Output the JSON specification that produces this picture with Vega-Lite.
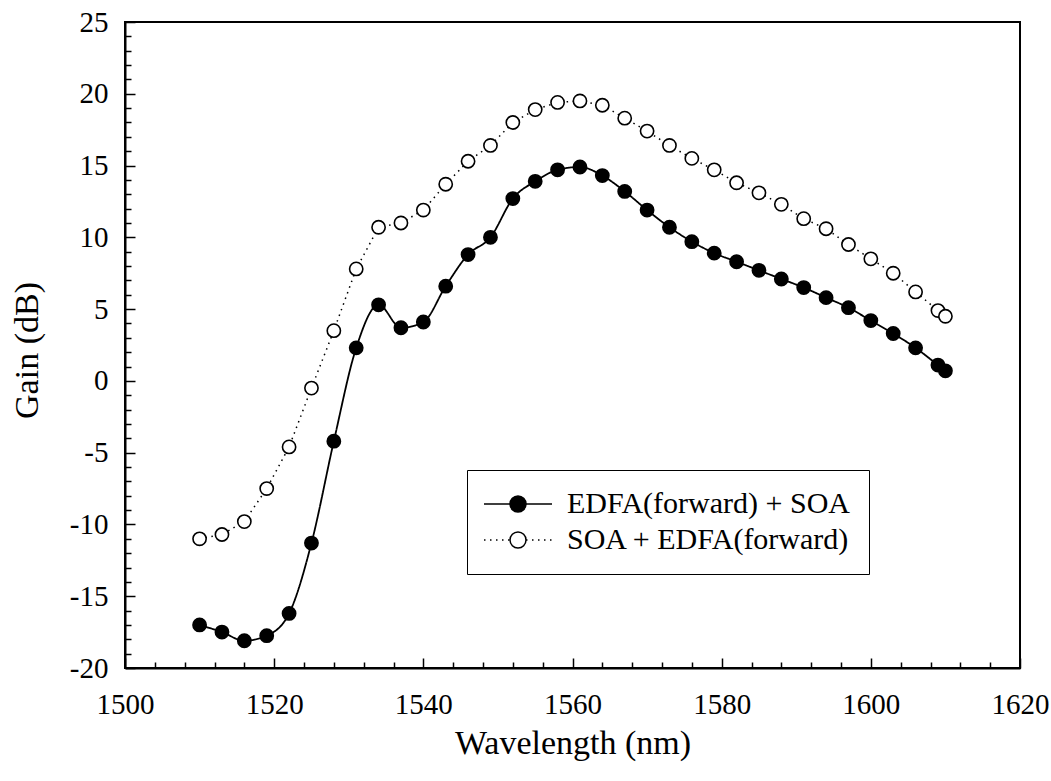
{
  "$schema": "https://vega.github.io/schema/vega-lite/v6.json",
  "width": 895,
  "height": 646,
  "autosize": {"type": "none"},
  "padding": {"left": 125, "top": 22, "right": 31, "bottom": 113},
  "background": "white",
  "config": {
    "view": {"stroke": "black", "strokeWidth": 2},
    "font": "Liberation Serif",
    "axis": {
      "domainColor": "black", "domainWidth": 2, "tickColor": "black", "tickWidth": 1.5,
      "grid": false, "labelFont": "Liberation Serif", "labelColor": "black",
      "titleFont": "Liberation Serif", "titleFontSize": 34, "titleFontWeight": "normal", "titleColor": "black"
    }
  },
  "data": {"values": [
    {"series": "EDFA(forward) + SOA", "wavelength": 1510, "gain": -17.0},
    {"series": "EDFA(forward) + SOA", "wavelength": 1513, "gain": -17.5},
    {"series": "EDFA(forward) + SOA", "wavelength": 1516, "gain": -18.1},
    {"series": "EDFA(forward) + SOA", "wavelength": 1519, "gain": -17.75},
    {"series": "EDFA(forward) + SOA", "wavelength": 1522, "gain": -16.2},
    {"series": "EDFA(forward) + SOA", "wavelength": 1525, "gain": -11.3},
    {"series": "EDFA(forward) + SOA", "wavelength": 1528, "gain": -4.2},
    {"series": "EDFA(forward) + SOA", "wavelength": 1531, "gain": 2.3},
    {"series": "EDFA(forward) + SOA", "wavelength": 1534, "gain": 5.3},
    {"series": "EDFA(forward) + SOA", "wavelength": 1537, "gain": 3.7},
    {"series": "EDFA(forward) + SOA", "wavelength": 1540, "gain": 4.1},
    {"series": "EDFA(forward) + SOA", "wavelength": 1543, "gain": 6.6},
    {"series": "EDFA(forward) + SOA", "wavelength": 1546, "gain": 8.8},
    {"series": "EDFA(forward) + SOA", "wavelength": 1549, "gain": 10.0},
    {"series": "EDFA(forward) + SOA", "wavelength": 1552, "gain": 12.7},
    {"series": "EDFA(forward) + SOA", "wavelength": 1555, "gain": 13.9},
    {"series": "EDFA(forward) + SOA", "wavelength": 1558, "gain": 14.7},
    {"series": "EDFA(forward) + SOA", "wavelength": 1561, "gain": 14.9},
    {"series": "EDFA(forward) + SOA", "wavelength": 1564, "gain": 14.3},
    {"series": "EDFA(forward) + SOA", "wavelength": 1567, "gain": 13.2},
    {"series": "EDFA(forward) + SOA", "wavelength": 1570, "gain": 11.9},
    {"series": "EDFA(forward) + SOA", "wavelength": 1573, "gain": 10.7},
    {"series": "EDFA(forward) + SOA", "wavelength": 1576, "gain": 9.7},
    {"series": "EDFA(forward) + SOA", "wavelength": 1579, "gain": 8.9},
    {"series": "EDFA(forward) + SOA", "wavelength": 1582, "gain": 8.3},
    {"series": "EDFA(forward) + SOA", "wavelength": 1585, "gain": 7.7},
    {"series": "EDFA(forward) + SOA", "wavelength": 1588, "gain": 7.1},
    {"series": "EDFA(forward) + SOA", "wavelength": 1591, "gain": 6.5},
    {"series": "EDFA(forward) + SOA", "wavelength": 1594, "gain": 5.8},
    {"series": "EDFA(forward) + SOA", "wavelength": 1597, "gain": 5.1},
    {"series": "EDFA(forward) + SOA", "wavelength": 1600, "gain": 4.2},
    {"series": "EDFA(forward) + SOA", "wavelength": 1603, "gain": 3.3},
    {"series": "EDFA(forward) + SOA", "wavelength": 1606, "gain": 2.3},
    {"series": "EDFA(forward) + SOA", "wavelength": 1609, "gain": 1.1},
    {"series": "EDFA(forward) + SOA", "wavelength": 1610, "gain": 0.7},
    {"series": "SOA + EDFA(forward)", "wavelength": 1510, "gain": -11.0},
    {"series": "SOA + EDFA(forward)", "wavelength": 1513, "gain": -10.7},
    {"series": "SOA + EDFA(forward)", "wavelength": 1516, "gain": -9.8},
    {"series": "SOA + EDFA(forward)", "wavelength": 1519, "gain": -7.5},
    {"series": "SOA + EDFA(forward)", "wavelength": 1522, "gain": -4.6},
    {"series": "SOA + EDFA(forward)", "wavelength": 1525, "gain": -0.5},
    {"series": "SOA + EDFA(forward)", "wavelength": 1528, "gain": 3.5},
    {"series": "SOA + EDFA(forward)", "wavelength": 1531, "gain": 7.8},
    {"series": "SOA + EDFA(forward)", "wavelength": 1534, "gain": 10.7},
    {"series": "SOA + EDFA(forward)", "wavelength": 1537, "gain": 11.0},
    {"series": "SOA + EDFA(forward)", "wavelength": 1540, "gain": 11.9},
    {"series": "SOA + EDFA(forward)", "wavelength": 1543, "gain": 13.7},
    {"series": "SOA + EDFA(forward)", "wavelength": 1546, "gain": 15.3},
    {"series": "SOA + EDFA(forward)", "wavelength": 1549, "gain": 16.4},
    {"series": "SOA + EDFA(forward)", "wavelength": 1552, "gain": 18.0},
    {"series": "SOA + EDFA(forward)", "wavelength": 1555, "gain": 18.9},
    {"series": "SOA + EDFA(forward)", "wavelength": 1558, "gain": 19.4},
    {"series": "SOA + EDFA(forward)", "wavelength": 1561, "gain": 19.5},
    {"series": "SOA + EDFA(forward)", "wavelength": 1564, "gain": 19.2},
    {"series": "SOA + EDFA(forward)", "wavelength": 1567, "gain": 18.3},
    {"series": "SOA + EDFA(forward)", "wavelength": 1570, "gain": 17.4},
    {"series": "SOA + EDFA(forward)", "wavelength": 1573, "gain": 16.4},
    {"series": "SOA + EDFA(forward)", "wavelength": 1576, "gain": 15.5},
    {"series": "SOA + EDFA(forward)", "wavelength": 1579, "gain": 14.7},
    {"series": "SOA + EDFA(forward)", "wavelength": 1582, "gain": 13.8},
    {"series": "SOA + EDFA(forward)", "wavelength": 1585, "gain": 13.1},
    {"series": "SOA + EDFA(forward)", "wavelength": 1588, "gain": 12.3},
    {"series": "SOA + EDFA(forward)", "wavelength": 1591, "gain": 11.3},
    {"series": "SOA + EDFA(forward)", "wavelength": 1594, "gain": 10.6},
    {"series": "SOA + EDFA(forward)", "wavelength": 1597, "gain": 9.5},
    {"series": "SOA + EDFA(forward)", "wavelength": 1600, "gain": 8.5},
    {"series": "SOA + EDFA(forward)", "wavelength": 1603, "gain": 7.5},
    {"series": "SOA + EDFA(forward)", "wavelength": 1606, "gain": 6.2},
    {"series": "SOA + EDFA(forward)", "wavelength": 1609, "gain": 4.9},
    {"series": "SOA + EDFA(forward)", "wavelength": 1610, "gain": 4.5}
  ]},
  "layer": [
    {
      "transform": [{"filter": "datum.series === 'EDFA(forward) + SOA'"}],
      "mark": {"type": "line", "interpolate": "monotone", "color": "black", "strokeWidth": 1.8},
      "encoding": {
        "x": {"field": "wavelength", "type": "quantitative", "scale": {"domain": [1500, 1620], "nice": false},
          "axis": {"orient": "bottom", "title": "Wavelength (nm)", "values": [1500, 1520, 1540, 1560, 1580, 1600, 1620], "labelExpr": "'' + datum.value", "labelFontSize": 29, "labelFlush": false, "tickSize": -10, "labelPadding": 32, "titleBaseline": "alphabetic", "titleY": 85}},
        "y": {"field": "gain", "type": "quantitative", "scale": {"domain": [-20, 25], "nice": false},
          "axis": {"orient": "left", "title": "Gain (dB)", "values": [-20, -15, -10, -5, 0, 5, 10, 15, 20, 25], "labelExpr": "'' + datum.value", "labelFontSize": 29, "labelFlush": false, "tickSize": -10, "labelPadding": 27, "titleBaseline": "middle", "titleX": -98, "titleY": 328}},
        "strokeDash": {"field": "series", "type": "nominal",
          "scale": {"domain": ["EDFA(forward) + SOA", "SOA + EDFA(forward)"], "range": [[1, 0], [1.5, 4.5]]},
          "legend": {
            "orient": "none", "legendX": 342, "legendY": 448, "title": null,
            "padding": 19, "rowPadding": 6,
            "labelFont": "Liberation Serif", "labelFontSize": 30, "labelColor": "transparent", "labelLimit": 0,
            "symbolSize": 256, "labelOffset": 34, "symbolOffset": 17,
            "symbolType": "M-4.25,0H-1M1,0H4.25",
            "symbolStrokeColor": "black", "symbolStrokeWidth": 1.5
          }}
      }
    },
    {
      "transform": [{"filter": "datum.series === 'SOA + EDFA(forward)'"}],
      "mark": {"type": "line", "color": "black", "strokeWidth": 1.5},
      "encoding": {
        "x": {"field": "wavelength", "type": "quantitative",
          "axis": {"orient": "bottom", "title": null, "labels": false, "domain": false, "tickSize": -6, "values": [1504, 1508, 1512, 1516, 1524, 1528, 1532, 1536, 1544, 1548, 1552, 1556, 1564, 1568, 1572, 1576, 1584, 1588, 1592, 1596, 1604, 1608, 1612, 1616]}},
        "y": {"field": "gain", "type": "quantitative",
          "axis": {"orient": "left", "title": null, "labels": false, "domain": false, "tickSize": -6, "values": [-19, -18, -17, -16, -14, -13, -12, -11, -9, -8, -7, -6, -4, -3, -2, -1, 1, 2, 3, 4, 6, 7, 8, 9, 11, 12, 13, 14, 16, 17, 18, 19, 21, 22, 23, 24]}},
        "strokeDash": {"field": "series", "type": "nominal"}
      }
    },
    {
      "mark": {"type": "point", "filled": true, "size": 175, "opacity": 1, "stroke": "black", "strokeWidth": 1.6},
      "encoding": {
        "x": {"field": "wavelength", "type": "quantitative", "axis": null},
        "y": {"field": "gain", "type": "quantitative", "axis": null},
        "fill": {"field": "series", "type": "nominal",
          "scale": {"range": ["black", "white"]},
          "legend": {
            "orient": "none", "legendX": 342, "legendY": 448, "title": null,
            "strokeColor": "black", "padding": 19, "rowPadding": 6,
            "labelFont": "Liberation Serif", "labelFontSize": 30, "labelColor": "black", "labelLimit": 0,
            "symbolSize": 256, "labelOffset": 34, "symbolOffset": 17,
            "symbolStrokeColor": "black", "symbolStrokeWidth": 1.5
          }}
      }
    }
  ],
  "resolve": {"axis": {"x": "independent", "y": "independent"}}
}
